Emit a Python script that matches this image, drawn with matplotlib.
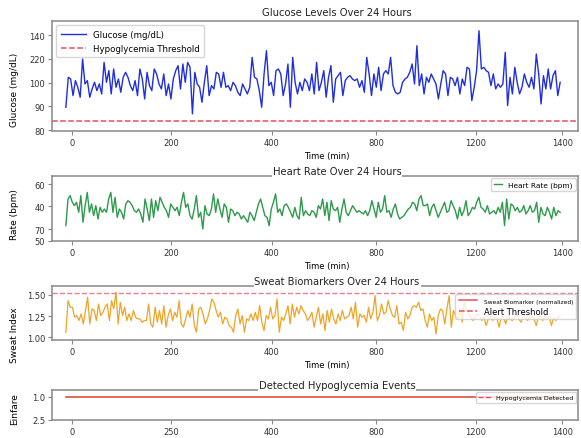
import numpy as np
import matplotlib
matplotlib.use('Agg')
import matplotlib.pyplot as plt
from matplotlib.lines import Line2D

glucose = [89.6, 102.2, 101.5, 94.5, 100.8, 98.0, 93.8, 109.9, 99.4, 100.8, 93.8, 97.3, 100.1, 96.6, 99.4, 95.2,
           108.5, 100.1, 105.0, 95.2, 105.7, 98.0, 101.5, 95.9, 102.2, 104.3, 102.2, 98.7, 96.6, 100.8, 94.5, 105.7,
           101.5, 93.1, 104.3, 98.7, 96.6, 105.7, 103.6, 99.4, 97.3, 103.6, 94.5, 99.4, 93.1, 101.5, 105.0, 107.1,
           97.3, 107.8, 100.1, 108.5, 106.4, 86.8, 104.3, 99.4, 98.0, 91.7, 100.1, 107.1, 94.5, 98.7, 97.3, 104.3,
           103.6, 98.0, 104.3, 98.0, 98.7, 96.6, 100.1, 98.7, 95.9, 94.5, 99.4, 97.3, 95.2, 98.0, 110.6, 102.2,
           101.5, 96.6, 89.6, 103.6, 113.4, 98.7, 100.1, 94.5, 105.0, 105.7, 103.6, 94.5, 99.4, 107.8, 89.6, 110.6,
           100.1, 95.2, 100.1, 96.6, 101.5, 100.1,
           96.6, 103.6, 95.2, 108.5, 96.6, 100.1, 105.0, 93.8, 102.2, 107.1, 91.7, 101.5, 102.9, 104.3, 94.5, 100.8,
           102.2, 102.9, 101.5, 100.8, 101.5, 98.0, 100.8, 95.9, 110.6, 103.6, 94.5, 103.6, 98.0, 106.4, 96.6, 103.6,
           105.0, 103.6, 110.6, 98.7, 95.9, 95.2, 95.9, 100.1, 101.5, 102.2, 104.3, 107.8, 99.4, 115.5, 98.7, 103.6,
           95.2, 102.2, 100.1, 103.6, 101.5, 99.4, 93.1, 99.4, 105.0, 103.6, 94.5, 102.2, 101.5, 98.7, 102.2, 95.2,
           101.5, 98.7, 106.4, 105.7, 92.4, 98.0, 105.0, 121.8, 105.7, 106.4, 105.0, 104.3, 98.7, 103.6, 97.3, 99.4,
           98.0, 99.4, 112.7, 90.3, 102.2, 95.2, 106.4, 100.1, 95.2, 98.0, 103.6, 100.1, 98.0, 102.2, 97.3, 112.0,
           103.6, 91.0, 102.9, 97.3, 105.7, 97.3, 102.9, 105.0, 94.5, 100.1]

heart_rate = [66.8, 87.3, 89.9, 84.8, 82.2, 84.8, 77.1, 89.9, 69.4, 82.2, 92.4, 77.1, 83.5, 74.5, 82.2, 71.9,
              80.9, 77.1, 79.6, 77.1, 87.3, 92.4, 77.1, 88.6, 73.2, 79.6, 77.1, 71.9, 83.5, 86.0, 84.8, 82.2,
              78.3, 77.1, 79.6, 75.8, 69.4, 87.3, 79.6, 70.7, 87.3, 73.2, 86.0, 78.3, 88.6, 84.8, 80.9, 78.3,
              73.2, 83.5, 80.9, 78.3, 80.9, 74.5, 84.8, 92.4, 80.9, 83.5, 74.5, 71.9, 79.6, 89.9, 73.2, 77.1,
              64.2, 82.2, 75.8, 74.5, 79.6, 91.2, 77.1, 87.3, 79.6, 73.2, 83.5, 80.9, 69.4, 79.6, 78.3, 74.5,
              77.1, 75.8, 71.9, 74.5, 71.9, 69.4, 77.1, 74.5, 70.7, 77.1, 83.5, 87.3, 80.9, 74.5, 73.2, 66.8,
              79.6, 84.8, 91.2, 77.1, 79.6, 74.5, 82.2, 83.5, 80.9, 77.1, 73.2, 80.9, 74.5, 71.9, 88.6, 74.5,
              78.3, 75.8, 74.5, 78.3, 77.1,
              73.2, 82.2, 79.6, 87.3, 74.5, 84.8, 70.7, 86.0, 79.6, 78.3, 80.9, 69.4, 79.6, 87.3, 77.1, 74.5,
              78.3, 82.2, 79.6, 77.1, 78.3, 77.1, 75.8, 78.3, 74.5, 78.3, 86.0, 79.6, 73.2, 84.8, 77.1, 79.6,
              89.9, 77.1, 78.3, 73.2, 79.6, 83.5, 75.8, 71.9, 73.2, 74.5, 77.1, 79.6, 80.9, 84.8, 83.5, 78.3,
              87.3, 89.9, 82.2, 82.2, 83.5, 74.5, 80.9, 83.5, 78.3, 73.2, 77.1, 80.9, 84.8, 77.1, 78.3, 86.0,
              82.2, 78.3, 71.9, 80.9, 74.5, 78.3, 86.0, 74.5, 77.1, 80.9, 79.6, 84.8, 88.6, 80.9, 79.6, 77.1,
              82.2, 75.8, 77.1, 78.3, 75.8, 80.9, 77.1, 84.8, 66.8, 87.3, 71.9, 83.5, 82.2, 78.3, 80.9, 77.1,
              78.3, 82.2, 75.8, 78.3, 82.2, 77.1, 78.3, 84.8, 69.4, 80.9, 75.8, 74.5, 80.9, 77.1, 71.9, 80.9,
              74.5, 78.3, 77.1]

sweat = [1.060, 1.433, 1.355, 1.355, 1.237, 1.257, 1.198, 1.276, 1.158, 1.316, 1.473, 1.158, 1.335, 1.316, 1.198,
         1.394, 1.257, 1.296, 1.355, 1.394, 1.198, 1.433, 1.335, 1.532, 1.158, 1.414, 1.257, 1.355, 1.198, 1.276,
         1.198, 1.316, 1.237, 1.217, 1.217, 1.178, 1.198, 1.198, 1.394, 1.158, 1.119, 1.355, 1.178, 1.316, 1.158,
         1.374, 1.119, 1.257, 1.335, 1.198, 1.296, 1.237, 1.433, 1.158, 1.119, 1.217, 1.316, 1.237, 1.394, 1.139,
         1.060, 1.335, 1.355, 1.276, 1.158, 1.217, 1.316, 1.453, 1.414, 1.316, 1.237, 1.296, 1.158, 1.237, 1.217,
         1.139, 1.119, 1.060, 1.257, 1.335, 1.158, 1.257, 1.060, 1.217, 1.198, 1.276, 1.198, 1.296, 1.198, 1.374,
         1.178, 1.080, 1.257, 1.217, 1.355, 1.217, 1.257, 1.453, 1.060, 1.237, 1.198, 1.276, 1.374, 1.158, 1.394,
         1.237, 1.355, 1.276, 1.374, 1.316, 1.276, 1.198, 1.237, 1.296, 1.119,
         1.237, 1.355, 1.158, 1.276, 1.080, 1.316, 1.178, 1.335, 1.217, 1.158, 1.276, 1.198, 1.316, 1.217, 1.237,
         1.257, 1.355, 1.217, 1.414, 1.119, 1.276, 1.237, 1.257, 1.178, 1.355, 1.217, 1.296, 1.492, 1.198, 1.257,
         1.394, 1.276, 1.296, 1.433, 1.335, 1.257, 1.237, 1.374, 1.158, 1.178, 1.080, 1.296, 1.217, 1.257, 1.355,
         1.374, 1.355, 1.414, 1.316, 1.335, 1.198, 1.119, 1.276, 1.198, 1.237, 1.040, 1.257, 1.335, 1.316, 1.158,
         1.335, 1.492, 1.119, 1.316, 1.257, 1.217, 1.335, 1.178, 1.414, 1.316, 1.276, 1.237, 1.198, 1.237, 1.276,
         1.257, 1.198, 1.237, 1.139, 1.217, 1.257, 1.198, 1.237, 1.217, 1.119, 1.257, 1.237, 1.158, 1.257, 1.217,
         1.198, 1.237, 1.276, 1.217, 1.178, 1.237, 1.257, 1.198, 1.237, 1.257, 1.217, 1.139, 1.237, 1.257, 1.198,
         1.276, 1.217, 1.237, 1.139, 1.237, 1.198, 1.237, 1.257]

glucose_threshold = 84
sweat_threshold = 1.52

# x ticks as they appear in the picture
xtick_pos = [0, 200, 404, 614, 816, 990]
xtick_labels = ['0', '200', '400', '800', '1200', '1400']
xtick_labels_events = ['0', '250', '400', '800', '1200', '1400']

glu_ticks = [80, 90, 100, 110, 120]
glu_tick_labels = ['80', '90', '100', '220', '140']
hr_ticks = [55, 64.2, 81.9, 98.8]
hr_tick_labels = ['50', '70', '40', '60']
sweat_ticks = [1.00, 1.25, 1.50]
sweat_tick_labels = ['1.00', '1.25', '1.50']
ev_ticks = [0, 1.0]
ev_tick_labels = ['2.5', '1.0']

t_glu = np.linspace(-12, 986, len(glucose))
t_hr = np.linspace(-12, 986, len(heart_rate))
t_sw = np.linspace(-12, 986, len(sweat))
events = np.ones(len(t_glu))

W, H = 581, 439
fig = plt.figure(figsize=(W / 100, H / 100), dpi=100)


def make_ax(left, top, right, bottom):
    return fig.add_axes([left / W, 1 - bottom / H, (right - left) / W, (bottom - top) / H])


def style(ax, ticks, labels):
    for s in ax.spines.values():
        s.set_color('#888888')
        s.set_linewidth(1.1)
    ax.set_xlim(-40, 1022)
    ax.set_xticks(xtick_pos)
    ax.set_xticklabels(labels)
    ax.tick_params(labelsize=6, colors='#888888', labelcolor='#333333', length=3, pad=2)


def inline_title(ax, text):
    ax.set_title(text, fontsize=7.2, x=0.542, pad=-1, color='#222222',
                 bbox=dict(facecolor='white', edgecolor='none', pad=0.6))


ax1 = make_ax(52, 22, 578, 132)
ax2 = make_ax(52, 177, 578, 242)
ax3 = make_ax(52, 287, 578, 341)
ax4 = make_ax(52, 391, 578, 421)

# glucose
ax1.plot(t_glu, glucose, color='#1f2fdd', lw=1.0, label='Glucose (mg/dL)')
ax1.axhline(glucose_threshold, color='#e8505b', ls='--', lw=1.1, label='Hypoglycemia Threshold')
ax1.set_ylim(79.6, 125.9)
ax1.set_yticks(glu_ticks)
ax1.set_yticklabels(glu_tick_labels)
style(ax1, None, xtick_labels)
ax1.set_title('Glucose Levels Over 24 Hours', fontsize=7.2, x=0.542, pad=4, color='#222222')
ax1.set_xlabel('Time (min)', fontsize=6, x=0.523, labelpad=3)
ax1.set_ylabel('Glucose (mg/dL)', fontsize=6.5)
ax1.yaxis.set_label_coords(-0.062, 0.38)
ax1.legend(loc='upper left', fontsize=6.2, handlelength=3, borderpad=0.5, labelspacing=0.6)

# heart rate
ax2.plot(t_hr, heart_rate, color='#2e9a4c', lw=1.0, label='Heart Rate (bpm)')
ax2.set_ylim(55, 105)
ax2.set_yticks(hr_ticks)
ax2.set_yticklabels(hr_tick_labels)
style(ax2, None, xtick_labels)
inline_title(ax2, 'Heart Rate Over 24 Hours')
ax2.set_xlabel('Time (min)', fontsize=6, x=0.523, labelpad=3)
ax2.set_ylabel('Rate (bpm)', fontsize=6.5)
ax2.yaxis.set_label_coords(-0.062, 0.415)
ax2.legend(loc='upper right', fontsize=5.3, handlelength=1.2, borderpad=0.4, borderaxespad=0.3)

# sweat biomarker
ax3.plot(t_sw, sweat, color='#f0a326', lw=0.9)
ax3.axhline(sweat_threshold, color='#ee7c8a', ls='--', lw=1.0)
ax3.set_ylim(0.968, 1.606)
ax3.set_yticks(sweat_ticks)
ax3.set_yticklabels(sweat_tick_labels)
style(ax3, None, xtick_labels)
inline_title(ax3, 'Sweat Biomarkers Over 24 Hours')
ax3.set_xlabel('Time (min)', fontsize=6, x=0.523, labelpad=3)
ax3.set_ylabel('Sweat Index', fontsize=6.5)
ax3.yaxis.set_label_coords(-0.062, 0.11)
handles = [Line2D([], [], color='#e8505b', lw=1.1), Line2D([], [], color='#e8505b', ls='--', lw=1.1)]
leg3 = ax3.legend(handles, ['Sweat Biomarker (normalized)', 'Alert Threshold'], loc='upper right',
                  bbox_to_anchor=(1.0, 0.88), fontsize=6, handlelength=2.2, borderpad=0.4,
                  labelspacing=0.3, borderaxespad=0.2)
leg3.get_texts()[0].set_fontsize(4.2)

# detected events
ax4.plot(t_glu, events, color='#df4f3c', lw=1.2)
ax4.set_ylim(0, 1.3)
ax4.set_yticks(ev_ticks)
ax4.set_yticklabels(ev_tick_labels)
style(ax4, None, xtick_labels_events)
inline_title(ax4, 'Detected Hypoglycemia Events')
ax4.set_ylabel('Einfare', fontsize=6.5)
ax4.yaxis.set_label_coords(-0.062, 0.4)
ax4.legend([Line2D([], [], color='#e8505b', ls='--', lw=1.0)], ['Hypoglycemia Detected'],
           loc='upper right', fontsize=4.6, handlelength=2, borderpad=0.4, borderaxespad=0.3)

fig.savefig('out.png', dpi=100)
